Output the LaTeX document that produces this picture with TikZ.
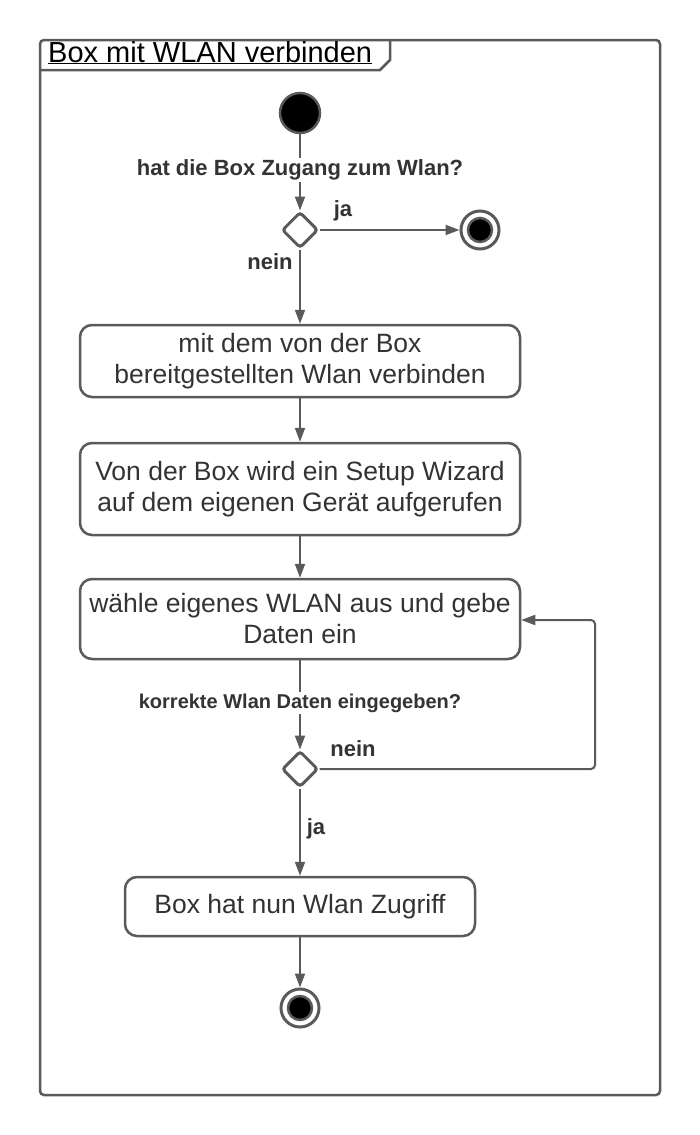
\documentclass[tikz,border=0pt]{standalone}
\usepackage{fontspec}
\setmainfont{Liberation Sans}
\usetikzlibrary{shapes.geometric,arrows.meta}
\definecolor{ln}{HTML}{5A5A5A}
\definecolor{tx}{HTML}{333333}
\tikzset{
  every picture/.style={x=1pt,y=-1pt},
  line/.style={draw=ln,line width=2pt},
  arr/.style={line,-{Triangle[length=14pt,width=10pt]}},
  act/.style={draw=ln,line width=2.5pt,rounded corners=12pt,fill=white,text=tx,align=center,font=\fontsize{26.5}{31}\selectfont,inner sep=0pt},
  dec/.style={draw=ln,line width=3pt,diamond,rounded corners=3pt,minimum size=36pt,inner sep=0pt,fill=white},
  startn/.style={circle,draw=ln,line width=2.5pt,fill=black,minimum size=40pt,inner sep=0pt},
  lbl/.style={text=tx,font=\bfseries\fontsize{22}{26}\selectfont,inner sep=2pt},
  lblw/.style={lbl,fill=white},
}
\newcommand{\finaln}[2]{%
  \node[circle,draw=ln,line width=3pt,fill=white,minimum size=38pt,inner sep=0pt] (#1) at (#2) {};
  \node[circle,draw=ln,line width=2.5pt,fill=black,minimum size=24pt,inner sep=0pt] at (#2) {};}
\begin{document}
\begin{tikzpicture}
\useasboundingbox (0,0) rectangle (700,1135);
\fill[white] (0,0) rectangle (700,1135);
% frame
\draw[ln,line width=2.5pt,rounded corners=4pt] (40,40) rectangle (660,1095);
\draw[ln,line width=2.5pt] (390,40) -- (390,60) -- (380,70) -- (40,70);
\node[anchor=base west,text=black,font=\fontsize{29}{33}\selectfont,inner sep=0pt] (title) at (48,62) {\underline{Box mit WLAN verbinden}};
% nodes
\node[startn] (start) at (300,113) {};
\node[dec] (d1) at (300,230) {};
\finaln{f1}{480,230}
\node[act,minimum width=440pt,minimum height=72pt] (b1) at (300,361) {mit dem von der Box\\bereitgestellten Wlan verbinden};
\node[act,minimum width=440pt,minimum height=92pt] (b2) at (300,489) {Von der Box wird ein Setup Wizard\\auf dem eigenen Gerät aufgerufen};
\node[act,minimum width=440pt,minimum height=80pt] (b3) at (300,619) {wähle eigenes WLAN aus und gebe\\Daten ein};
\node[dec] (d2) at (300,769) {};
\node[act,minimum width=350pt,minimum height=59pt] (b4) at (300,906.5) {Box hat nun Wlan Zugriff};
\finaln{f2}{300,1008}
% connectors
\draw[arr] (start) -- (d1);
\node[lblw] (q1) at (300,170) {hat die Box Zugang zum Wlan?};
\draw[arr] (d1) -- (f1);
\node[lbl] (ja1) at (343,211) {ja};
\draw[arr] (d1) -- (b1);
\node[lbl] (nein1) at (270,262) {nein};
\draw[arr] (b1) -- (b2);
\draw[arr] (b2) -- (b3);
\draw[arr] (b3) -- (d2);
\node[lblw,font=\bfseries\fontsize{20}{24}\selectfont] (q2) at (300,703) {korrekte Wlan Daten eingegeben?};
\coordinate (c1) at (595,769);
\coordinate (c2) at (595,620);
\draw[arr,rounded corners=4pt] (d2.east) -- (c1) -- (c2) -- (b3.east |- c2);
\node[lbl] (nein2) at (353,749) {nein};
\draw[arr] (d2) -- (b4);
\node[lbl] (ja2) at (316,829) {ja};
\draw[arr] (b4) -- (f2);
\end{tikzpicture}
\end{document}
